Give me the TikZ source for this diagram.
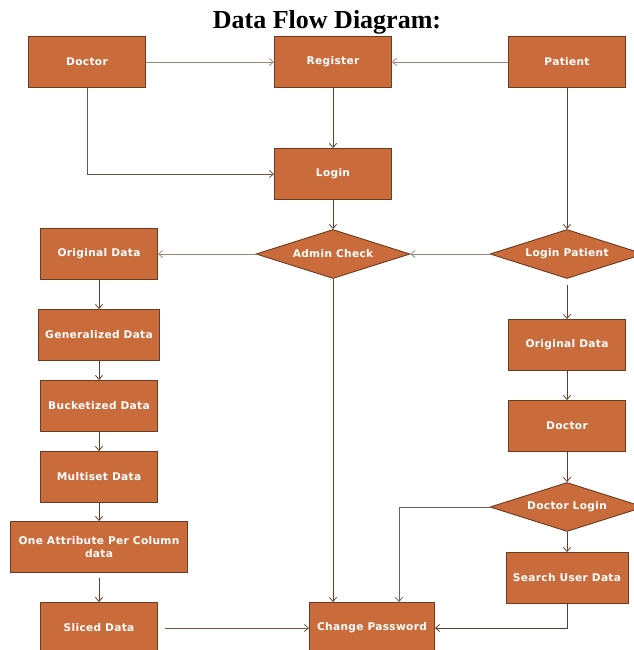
\documentclass[tikz,border=0pt]{standalone}
\usepackage{fontspec}
\setmainfont{Liberation Serif}
\newfontfamily\boxfont[LetterSpace=3]{DejaVu Sans}
\usetikzlibrary{shapes.geometric,arrows.meta}

\definecolor{boxfill}{HTML}{C96B3B}
\definecolor{boxedge}{HTML}{6E3B20}
\definecolor{flowdark}{HTML}{5E3E2E}
\definecolor{flowlite}{HTML}{A08878}

\begin{document}
\begin{tikzpicture}[x=1pt, y=-1pt,
    box/.style={draw=boxedge, fill=boxfill, line width=0.9pt, minimum width=117pt,
      minimum height=51pt, inner sep=0pt, text=white, align=center,
      font=\boxfont\bfseries\fontsize{10.6}{12.5}\selectfont},
    check/.style={box, diamond, minimum width=154pt, minimum height=49pt, aspect=3},
    flow/.style={draw=flowdark, line width=0.8pt, -{Straight Barb[length=4pt,width=7pt]}},
    flowlight/.style={flow, draw=flowlite}]
  \useasboundingbox (0,0) rectangle (633,650);

  \node[font=\bfseries\fontsize{26}{30}\selectfont] (title) at (327,22) {Data Flow Diagram:};

  % top row
  \node[box] (doc) at (87,62) {Doctor};
  \node[box] (reg) at (333,62) {Register};
  \node[box] (pat) at (567,62) {Patient};
  \node[box] (login) at (333,174) {Login};

  % checks
  \node[check] (admin) at (333,254) {Admin Check};
  \node[check] (lpat) at (567,254) {Login Patient};

  % left column
  \node[box] (orig) at (99,254) {Original Data};
  \node[box, minimum width=121pt] (gen) at (99,335) {Generalized Data};
  \node[box] (buck) at (99,406) {Bucketized Data};
  \node[box] (multi) at (99,477) {Multiset Data};
  \node[box, minimum width=177pt] (attr) at (99,547) {One Attribute Per Column\\data};
  \node[box] (slice) at (99,628) {Sliced Data};

  % right column
  \node[box] (origp) at (567,345) {Original Data};
  \node[box] (docp) at (567,426) {Doctor};
  \node[check] (dlogin) at (567,507) {Doctor Login};
  \node[box, minimum width=122pt] (search) at (567,578) {Search User Data};

  \node[box, minimum width=125pt] (chpw) at (372,628) {Change Password};

  % flows
  \draw[flowlight] (doc.east) -- (reg.west);
  \draw[flowlight] (pat.west) -- (reg.east);
  \draw[flow] (reg.south) -- (login.north);
  \draw[flow, draw=flowdark!70!flowlite] (doc.south) |- (login.west);
  \draw[flow] (login.south) -- (admin.north);
  \draw[flow] (pat.south) -- (lpat.north);
  \draw[flowlight] (lpat.west) -- (admin.east);
  \draw[flowlight] (admin.west) -- (orig.east);
  \draw[flow] (admin.south) -- (admin.south |- chpw.north);

  \draw[flow] (orig.south) -- (gen.north);
  \draw[flow] (gen.south) -- (buck.north);
  \draw[flow] (buck.south) -- (multi.north);
  \draw[flow] (multi.south) -- (attr.north);
  \draw[flow, shorten <=5pt] (attr.south) -- (slice.north);
  \draw[flow, draw=flowdark!70!flowlite, shorten <=7pt] (slice.east) -- (chpw.west);

  \draw[flow, shorten <=6pt] (lpat.south) -- (origp.north);
  \draw[flow] (origp.south) -- (docp.north);
  \draw[flow] (docp.south) -- (dlogin.north);
  \draw[flow] (dlogin.south) -- (search.north);
  \draw[flow, draw=flowdark!60!flowlite] (dlogin.west) -| ([xshift=27pt]chpw.north);
  \draw[flow] (search.south) |- (chpw.east);
\end{tikzpicture}
\end{document}
